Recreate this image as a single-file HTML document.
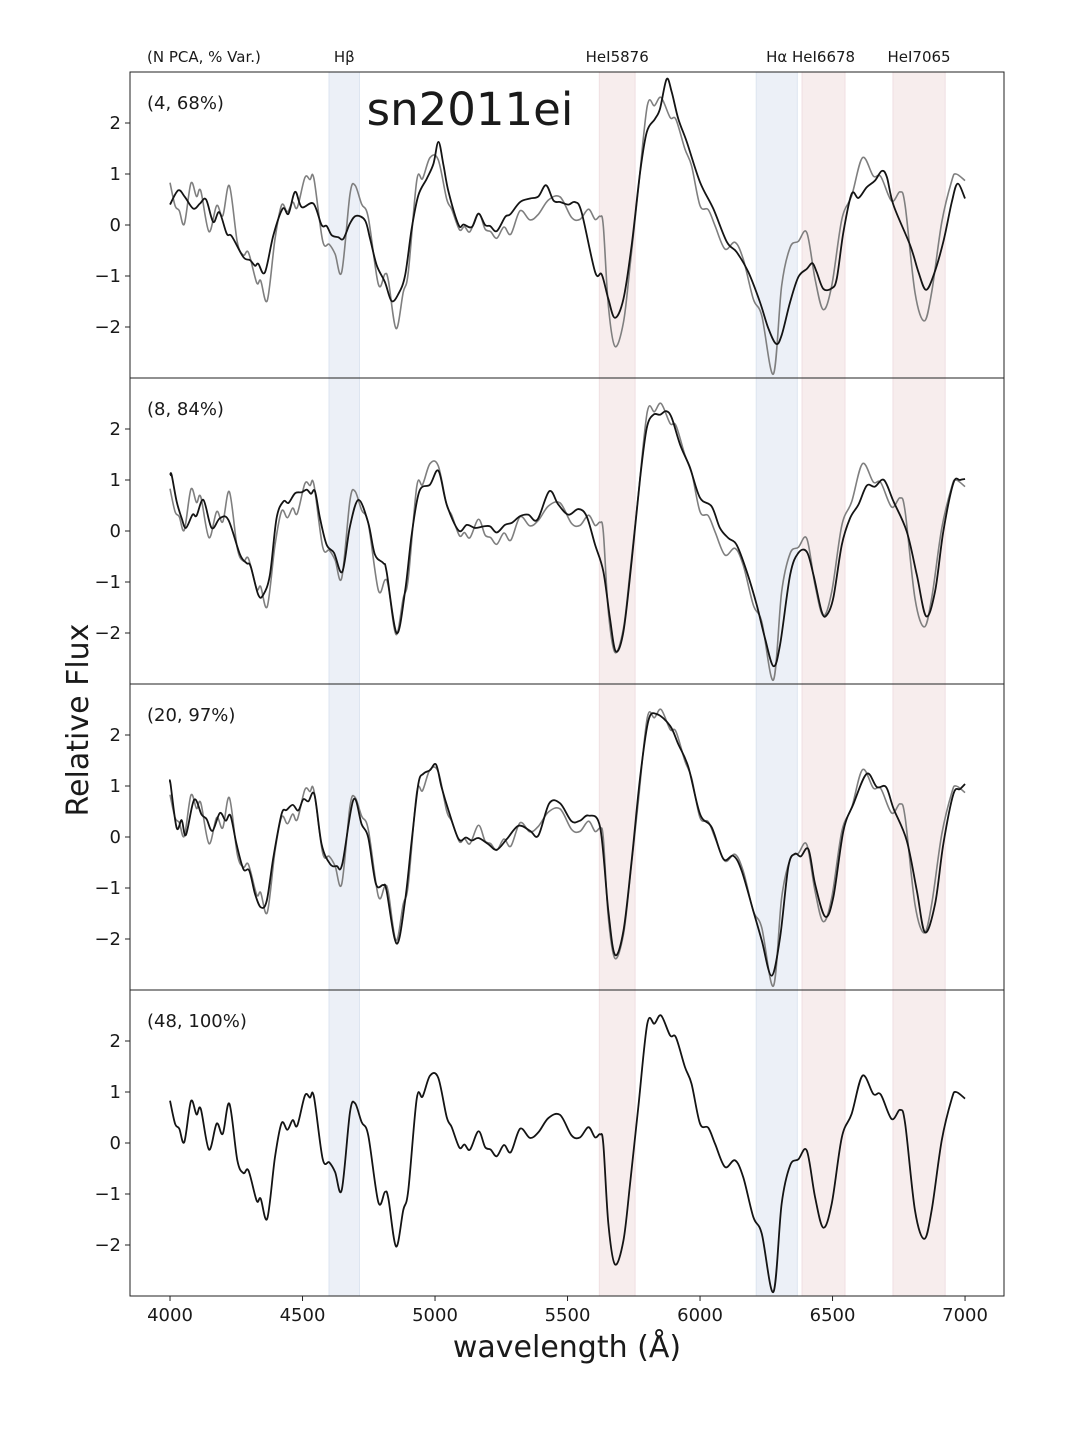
<!DOCTYPE html>
<html><head><meta charset="utf-8">
<style>
html,body{margin:0;padding:0;background:#fff;}
svg text{font-family:"DejaVu Sans","Liberation Sans",sans-serif;fill:#1a1a1a;}
</style></head>
<body>
<svg id="fig" width="1080" height="1440" viewBox="0 0 1080 1440" xmlns="http://www.w3.org/2000/svg">
<rect width="1080" height="1440" fill="#fff"/>
<g id="bands"></g>
<g id="plots"></g>
<text x="470" y="125" font-size="45" text-anchor="middle">sn2011ei</text>
<text x="147" y="62" font-size="15">(N PCA, % Var.)</text>
<text x="0" y="0" font-size="30" text-anchor="middle" transform="translate(88,720) rotate(-90)">Relative Flux</text>
<text x="567" y="1357" font-size="30" text-anchor="middle">wavelength (Å)</text>
</svg>
<script>
const obsWave=[4000,4019,4035,4054,4079,4100,4116,4147,4176,4199,4224,4254,4277,4296,4327,4342,4367,4396,4421,4443,4463,4480,4509,4528,4543,4576,4601,4623,4648,4679,4698,4723,4748,4786,4811,4824,4853,4880,4899,4931,4953,4981,5012,5044,5063,5092,5111,5132,5164,5189,5210,5233,5260,5286,5321,5358,5390,5428,5472,5515,5547,5579,5604,5623,5635,5654,5679,5711,5736,5767,5801,5828,5853,5887,5909,5943,5968,6000,6031,6057,6094,6132,6163,6201,6233,6277,6308,6340,6371,6403,6434,6465,6497,6535,6572,6613,6654,6682,6723,6755,6774,6811,6846,6874,6912,6950,6966,7000];
const obsFlux=[0.83,0.38,0.28,0.02,0.82,0.56,0.67,-0.13,0.38,0.18,0.77,-0.34,-0.59,-0.54,-1.13,-1.09,-1.48,-0.28,0.39,0.26,0.45,0.34,0.93,0.89,0.91,-0.31,-0.38,-0.57,-0.92,0.60,0.78,0.41,0.15,-1.16,-0.96,-1.09,-2.03,-1.32,-0.93,0.87,0.91,1.32,1.28,0.51,0.31,-0.09,-0.03,-0.13,0.23,-0.08,-0.13,-0.26,-0.04,-0.18,0.28,0.10,0.21,0.49,0.55,0.15,0.11,0.31,0.11,0.17,-0.02,-1.58,-2.38,-1.91,-0.80,0.70,2.34,2.34,2.50,2.11,2.07,1.49,1.16,0.38,0.30,-0.02,-0.47,-0.34,-0.67,-1.45,-1.78,-2.92,-1.19,-0.44,-0.32,-0.15,-1.06,-1.66,-1.19,0.11,0.57,1.32,0.96,0.95,0.47,0.65,0.38,-1.32,-1.88,-1.32,0.05,0.87,1.00,0.87];

const rec4Wave=[4000,4031,4056,4088,4113,4136,4163,4186,4214,4233,4277,4302,4321,4333,4358,4390,4425,4447,4472,4497,4541,4572,4591,4610,4635,4654,4679,4702,4736,4755,4780,4811,4836,4862,4887,4912,4937,4969,4994,5013,5032,5051,5089,5108,5139,5164,5189,5208,5233,5265,5284,5321,5359,5390,5419,5447,5472,5503,5528,5553,5604,5629,5654,5679,5711,5742,5774,5799,5830,5849,5874,5893,5918,5950,6000,6050,6101,6138,6182,6226,6258,6287,6308,6340,6371,6403,6424,6440,6465,6497,6516,6541,6572,6598,6629,6660,6686,6705,6730,6793,6824,6852,6881,6918,6950,6972,7000];
const rec4Flux=[0.40,0.68,0.55,0.32,0.42,0.50,0.06,0.25,-0.17,-0.22,-0.63,-0.69,-0.80,-0.76,-0.93,-0.20,0.32,0.22,0.65,0.35,0.42,0.0,-0.02,-0.20,-0.24,-0.27,0.03,0.18,0.09,-0.27,-0.79,-1.12,-1.49,-1.35,-0.99,-0.07,0.58,0.91,1.20,1.63,1.17,0.65,0.0,0.01,-0.04,0.22,0.0,-0.02,-0.12,0.16,0.21,0.45,0.52,0.56,0.78,0.48,0.45,0.40,0.45,0.25,-0.92,-0.97,-1.45,-1.82,-1.45,-0.40,1.04,1.82,2.08,2.28,2.86,2.61,2.08,1.63,0.84,0.32,-0.33,-0.53,-0.92,-1.51,-2.03,-2.33,-2.16,-1.51,-1.02,-0.86,-0.75,-0.92,-1.25,-1.24,-1.05,-0.14,0.61,0.53,0.74,0.87,1.06,0.94,0.39,-0.40,-0.92,-1.27,-0.99,-0.33,0.45,0.81,0.52];

const rec8Wave=[4000,4006,4025,4044,4060,4085,4100,4126,4157,4188,4220,4264,4289,4304,4333,4352,4377,4402,4428,4447,4472,4497,4516,4532,4547,4566,4591,4619,4650,4679,4711,4748,4773,4805,4817,4855,4887,4912,4941,4981,5013,5044,5089,5120,5151,5183,5208,5233,5264,5290,5321,5352,5386,5431,5465,5503,5541,5572,5604,5635,5660,5682,5711,5742,5774,5799,5824,5849,5872,5893,5925,5962,6000,6044,6075,6107,6138,6176,6214,6245,6277,6302,6340,6371,6403,6428,6459,6478,6503,6535,6566,6598,6629,6660,6694,6730,6780,6818,6853,6887,6918,6956,6981,7000];
const rec8Flux=[1.09,1.10,0.58,0.25,0.06,0.32,0.30,0.61,0.06,0.25,0.22,-0.46,-0.63,-0.69,-1.25,-1.25,-0.86,0.25,0.58,0.55,0.74,0.76,0.81,0.73,0.78,0.25,-0.27,-0.43,-0.80,0.09,0.61,0.16,-0.46,-0.63,-0.79,-2.00,-1.18,-0.07,0.78,0.91,1.18,0.52,0.01,0.12,0.06,0.09,0.09,-0.03,0.12,0.16,0.29,0.32,0.22,0.78,0.52,0.32,0.43,0.29,-0.27,-0.79,-1.71,-2.36,-1.97,-0.59,1.04,2.02,2.28,2.28,2.35,2.22,1.69,1.24,0.65,0.48,0.06,-0.14,-0.27,-0.79,-1.45,-2.10,-2.65,-2.23,-0.86,-0.43,-0.41,-0.86,-1.58,-1.65,-1.31,-0.27,0.25,0.52,0.89,0.87,1.00,0.58,-0.01,-0.86,-1.67,-1.18,-0.01,0.94,1.00,1.02];

const rec20Wave=[4000,4002,4025,4044,4060,4091,4119,4138,4160,4188,4210,4228,4251,4277,4299,4321,4343,4365,4390,4421,4440,4463,4484,4503,4522,4545,4572,4604,4629,4650,4692,4723,4748,4777,4805,4817,4855,4887,4912,4937,4956,4981,5004,5025,5051,5089,5117,5139,5164,5201,5233,5271,5315,5359,5390,5431,5472,5515,5547,5579,5623,5654,5679,5711,5742,5774,5805,5837,5887,5918,5956,6000,6044,6088,6126,6157,6201,6233,6270,6302,6333,6358,6380,6409,6434,6472,6503,6541,6579,6629,6667,6702,6730,6780,6818,6849,6887,6918,6956,6981,7000];
const rec20Flux=[1.07,1.04,0.18,0.33,0.04,0.73,0.44,0.35,0.12,0.47,0.32,0.42,-0.14,-0.63,-0.66,-1.12,-1.38,-1.25,-0.40,0.45,0.53,0.63,0.52,0.74,0.70,0.83,-0.14,-0.53,-0.57,-0.53,0.73,0.25,-0.01,-0.92,-0.94,-1.05,-2.09,-1.25,-0.07,1.04,1.24,1.31,1.42,0.97,0.52,-0.04,-0.01,-0.07,-0.02,-0.14,-0.25,-0.04,0.22,0.12,0.03,0.66,0.66,0.31,0.32,0.42,0.19,-1.45,-2.31,-1.84,-0.46,1.17,2.28,2.41,2.18,1.82,1.37,0.45,0.19,-0.43,-0.37,-0.66,-1.45,-2.03,-2.72,-1.97,-0.59,-0.33,-0.38,-0.24,-0.92,-1.56,-1.18,0.12,0.65,1.24,0.98,0.98,0.56,-0.07,-1.05,-1.87,-1.31,-0.14,0.84,0.94,1.04];

const panelLabels=["(4, 68%)","(8, 84%)","(20, 97%)","(48, 100%)"];
const xTicks=[4000,4500,5000,5500,6000,6500,7000];
const yTicks=[-2,-1,0,1,2];
const bandStart=[4600,5620,6212,6385,6728];
const bandEnd=[4715,5755,6367,6547,6925];
const bandNames=["Hβ","HeI5876","Hα","HeI6678","HeI7065"];
const bandKinds=["H","He","H","He","He"];

const NS="http://www.w3.org/2000/svg";
const L=130,R=1004,TOP=72,PH=306;
const X0=3849,X1=7147,Y0=-3,Y1=3;
const sx=w=>L+(w-X0)/(X1-X0)*(R-L);
const sy=(v,p)=>TOP+p*PH+(Y1-v)/(Y1-Y0)*PH;
function mk(tag,attrs,parent){const e=document.createElementNS(NS,tag);for(const k in attrs)e.setAttribute(k,attrs[k]);parent.appendChild(e);return e;}
function smooth(ws,fs,p){
  const pts=ws.map((w,i)=>[sx(w),sy(fs[i],p)]);
  let d="M"+pts[0][0].toFixed(2)+","+pts[0][1].toFixed(2);
  for(let i=0;i<pts.length-1;i++){
    const p0=pts[Math.max(0,i-1)],p1=pts[i],p2=pts[i+1],p3=pts[Math.min(pts.length-1,i+2)];
    const c1=[p1[0]+(p2[0]-p0[0])/6,p1[1]+(p2[1]-p0[1])/6];
    const c2=[p2[0]-(p3[0]-p1[0])/6,p2[1]-(p3[1]-p1[1])/6];
    d+="C"+c1[0].toFixed(2)+","+c1[1].toFixed(2)+" "+c2[0].toFixed(2)+","+c2[1].toFixed(2)+" "+p2[0].toFixed(2)+","+p2[1].toFixed(2);
  }
  return d;
}
const bandsG=document.getElementById('bands');
const plotsG=document.getElementById('plots');
const fig=document.getElementById('fig');
for(let b=0;b<bandStart.length;b++){
  const x0=sx(bandStart[b]),x1=sx(bandEnd[b]);
  const isH=bandKinds[b]==="H";
  const r=mk('rect',{x:x0,y:TOP,width:x1-x0,height:PH*4,fill:isH?"#ecf0f7":"#f7eded",stroke:isH?"#dde5f0":"#f0dfe2","stroke-width":1},bandsG);
  
  
  const t=mk('text',{x:(x0+x1)/2,y:62,"font-size":15,"text-anchor":"middle"},fig);
  t.textContent=bandNames[b];
  
  
}
const recs=[[rec4Wave,rec4Flux],[rec8Wave,rec8Flux],[rec20Wave,rec20Flux]];
for(let p=0;p<4;p++){
  const g=mk('g',{},plotsG);
  
  
  if(p<3){
    const og=mk('path',{d:smooth(obsWave,obsFlux,p),fill:"none",stroke:"#7f7f7f","stroke-width":1.6},g);
    
    
    const rc=mk('path',{d:smooth(recs[p][0],recs[p][1],p),fill:"none",stroke:"#141414","stroke-width":1.8},g);
    
    
  } else {
    const og=mk('path',{d:smooth(obsWave,obsFlux,p),fill:"none",stroke:"#141414","stroke-width":1.8},g);
    
    
  }
  const fr=mk('rect',{x:L,y:TOP+p*PH,width:R-L,height:PH,fill:"none",stroke:"#222","stroke-width":1},g);
  
  
  const lb=mk('text',{x:147,y:TOP+p*PH+37,"font-size":18},g);
  lb.textContent=panelLabels[p];
  
  
  for(const v of yTicks){
    const y=sy(v,p);
    const tk=mk('line',{x1:L-5,x2:L,y1:y,y2:y,stroke:"#222","stroke-width":1},g);
    
    
    const tl=mk('text',{x:L-9,y:y+6,"font-size":18,"text-anchor":"end"},g);
    tl.textContent=(v<0?"\u2212"+(-v):String(v));
    
    
  }
}
const bottom=TOP+4*PH;
for(const v of xTicks){
  const x=sx(v);
  const tk=mk('line',{x1:x,x2:x,y1:bottom,y2:bottom+5,stroke:"#222","stroke-width":1},plotsG);
  
  
  const tl=mk('text',{x:x,y:bottom+25,"font-size":18,"text-anchor":"middle"},plotsG);
  tl.textContent=String(v);
  
  
}
</script>
</body></html>
